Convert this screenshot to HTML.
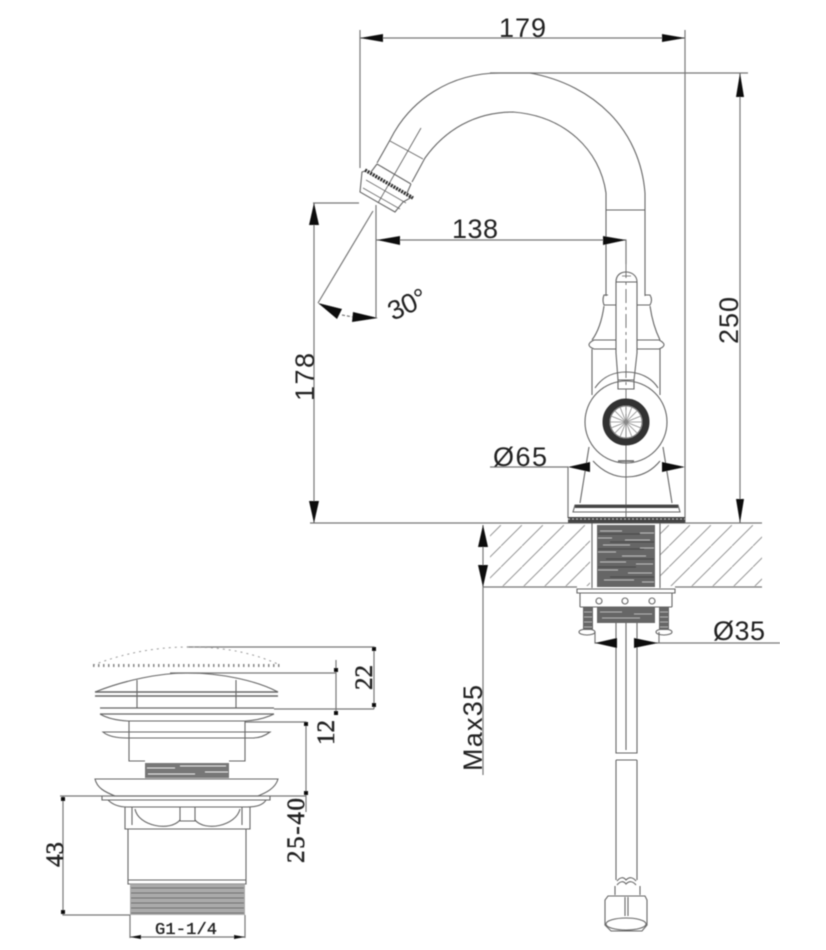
<!DOCTYPE html>
<html><head><meta charset="utf-8"><style>
html,body{margin:0;padding:0;background:#fff}
svg{display:block}
.s{font-family:"Liberation Sans",sans-serif;font-size:27px;fill:#222}
.t{font-family:"Liberation Serif",serif;font-size:25px;fill:#222;stroke:#222;stroke-width:.5}
</style></head><body>
<svg width="826" height="950" viewBox="0 0 826 950" xmlns="http://www.w3.org/2000/svg">
<defs>
<filter id="b" x="0" y="0" width="100%" height="100%"><feGaussianBlur stdDeviation="0.6"/></filter>
<pattern id="h" patternUnits="userSpaceOnUse" width="21" height="21" patternTransform="translate(18,0)"><path d="M-2 23L23 -2" stroke="#999" stroke-width="1" fill="none"/></pattern>
</defs>
<g filter="url(#b)">
<!-- hatch -->
<rect x="490" y="525" width="100" height="61" fill="url(#h)"/>
<rect x="660" y="525" width="102" height="61" fill="url(#h)"/>

<g fill="none" stroke="#777" stroke-width="1.2">
<!-- dimension lines -->
<path d="M360 30V168M685 30V523M360 38H685"/>
<path d="M490 73H748M740 73V523"/>
<path d="M313 203H359M314 203V523M310 523H762"/>
<path d="M376 205V318M376 240H626V264"/>
<path d="M373 211L318 303"/>
<path d="M342 315L353 317" stroke-dasharray="3 2"/>
<path d="M483 525V775M483 587H577M675 587H762"/>
<path d="M490 467H568V518"/>
<path d="M595 632V643H617M634 643H780M659 632V643"/>
<!-- small drain dims -->
<path d="M187 647H374V709M170 673H336M336 660V715M274 709H374M245 722H306V812M60 796H306M63 796V915H130"/>
<path d="M130 915V938M245 915V938M130 937H245"/>
</g>

<g fill="none" stroke="#666" stroke-width="1.1">
<!-- spout -->
<path d="M377 163L390 140C410 100 450 73 500 73H530C595 85 640 130 645 193V296"/>
<path d="M412 182L425 158C445 130 475 112 513 112C565 116 600 150 606 193V296"/>
<path d="M606 210H645"/>
<path d="M390 141L423 159M421 128L378 203" stroke-width=".9"/>
<path d="M377 164L411 184M377 164L371 172M411 184L407 193M365 171L362 172L360 192L395 212L403 202L412 197" />
<path d="M366 180L406 203M363 188L400 209" stroke-width=".8"/>
<!-- handle -->
<path d="M616 282V353L618 380M637 282V353L634 380M616 282C616 274 622 272 626 272C631 272 637 275 637 282Z"/>
<path d="M618 380H634V389H618Z"/>
<path d="M616 282H637M622 276H631" stroke-width=".7"/>
<!-- body -->
<path d="M608 295H604Q602 300 604 305H616M645 295H650Q653 300 650 305H637"/>
<path d="M604 306C602 320 598 332 592 340M650 306C652 320 656 332 660 340"/>
<path d="M616 340H594Q584 345 594 349H616M637 340H659Q669 345 659 349H637"/>
<path d="M592 349V395M660 349V395"/>
<circle cx="626" cy="422" r="41"/>
<path d="M595 388C603 376 615 372 626 372C640 372 652 378 658 388"/>
<path d="M593 461C603 472 615 477 626 477C640 477 651 472 660 461"/>
<path d="M589 447L580 503M663 447L672 503"/>
<path d="M618 461H634" stroke-width="1.6"/>
<path d="M575 505H678L680 512H573Z"/>
<path d="M626 264V420" stroke-dasharray="14 4 3 4" stroke-width=".9"/>
<path d="M626 420V523" stroke-width=".9"/>
<!-- under deck -->
<path d="M592 523V588M660 523V588"/>
<path d="M577 589H675V593H577Z"/>
<path d="M580 593V607M672 593V607M580 607H672"/>
<circle cx="599" cy="601" r="3"/><circle cx="625" cy="601" r="3"/><circle cx="652" cy="601" r="3"/>
<ellipse cx="587" cy="632" rx="8" ry="3"/><ellipse cx="664" cy="632" rx="8" ry="3"/>
<path d="M616 623V753H637V623M616 760H637M616 760V880M637 760V880M626 623V750" />
<path d="M617 881Q622 875 626 880Q631 875 636 881M617 885Q622 879 626 884Q631 879 636 885"/>
<path d="M615 886V895M640 886V895"/>
<path d="M608 896H614H640H645L647 900V925L642 931H611L605 925V900Z"/>
<path d="M625 897V916M628 897V916"/>
<ellipse cx="626" cy="924" rx="20" ry="6"/>
<!-- drain top -->
<path d="M95 692C125 680 160 673 187 673C220 673 255 680 278 692"/>
<path d="M95 692H278M95 696H278" stroke-width="1.5"/>
<path d="M137 680V708M236 680V708"/>
<path d="M100 708H274M100 714H274" stroke-width="1.3"/>
<path d="M100 714Q110 720 128 721H245Q262 720 274 714"/>
<path d="M129 721V761H145M245 721V761H229"/>
<path d="M103 732H270Q262 738 253 738H127Q110 738 103 732Z"/>
<path d="M95 779H278C275 790 262 794 258 796H115C105 792 97 788 95 779Z"/>
<path d="M102 796V800H108Q115 807 127 807H247Q262 807 266 800H270V796M102 800H270"/>
<!-- hex -->
<path d="M125 807V829H250V807M132 807V825M180 807V821H195V807M242 807V825"/>
<path d="M135 809C138 826 170 832 180 820M195 820C205 832 236 826 240 809"/>
<path d="M128 829V880H246V829M128 880V884H246V880"/>
</g>
<path d="M93 665C120 655 150 647 190 647C230 647 258 655 280 665" fill="none" stroke="#999" stroke-width="1" stroke-dasharray="2 4"/>
<path d="M93 665.500H280" fill="none" stroke="#888" stroke-width="3" stroke-dasharray="1.500 3.500"/>

<!-- dark parts -->
<path d="M365 170L413 198" stroke="#333" stroke-width="3.500" stroke-dasharray="2 1" fill="none"/>
<circle cx="626" cy="422" r="20" fill="none" stroke="#333" stroke-width="7"/>
<circle cx="626" cy="422" r="16" fill="none" stroke="#777" stroke-width="1"/>
<g stroke="#888" stroke-width=".8"><path d="M610 422H642M626 406V438M615 411L637 433M637 411L615 433M620 407L632 437M632 407L620 437M611 416L641 428M641 416L611 428"/></g>
<rect x="575" y="505" width="103" height="3" fill="#444"/>
<rect x="568" y="517" width="117" height="6" fill="#444"/>
<path d="M568 519H685" stroke="#aaa" stroke-width="1" stroke-dasharray="2 2"/>
<!-- threads -->
<rect x="597" y="525" width="58" height="62" fill="#666"/>
<g stroke="#ccc" stroke-width="1" fill="none" opacity=".75">
<path d="M600 531H622M640 533H654M598 538H612M625 540H650M603 545H630M640 548H654M598 552H616M622 556H646M600 562H626M636 564H653M598 570H618M628 573H652M604 580H634M642 582H654"/>
</g>
<g stroke="#333" stroke-width="1" fill="none" opacity=".7">
<path d="M598 534H640M610 542H654M598 549H644M606 559H654M598 567H636M610 577H654"/>
</g>
<rect x="597" y="607" width="58" height="16" fill="#666"/>
<g stroke="#ccc" stroke-width="1" fill="none" opacity=".7"><path d="M600 612H622M634 614H652M602 618H640"/></g>
<rect x="583" y="607" width="10" height="23" fill="#666"/>
<rect x="659" y="607" width="10" height="23" fill="#666"/>
<g stroke="#aaa" stroke-width="1"><path d="M584 612H592M584 617H592M584 622H592M584 627H592M660 612H668M660 617H668M660 622H668M660 627H668"/></g>
<rect x="145" y="763" width="84" height="15" fill="#777"/>
<g stroke="#ddd" stroke-width="1" fill="none"><path d="M147 768H175M180 766H226M148 774H195M205 772H228"/></g>
<rect x="130" y="884" width="115" height="31" fill="#aaa"/>
<g stroke="#666" stroke-width="1" fill="none"><path d="M131 888H244M131 893H244M131 898H244M131 903H244M131 908H244M131 913H244"/></g>

<!-- arrowheads -->
<g fill="#111">
<path d="M360 38L383 34V42Z"/><path d="M685 38L662 34V42Z"/>
<path d="M740 73L736 97H744Z"/><path d="M740 523L736 499H744Z"/>
<path d="M314 203L309 225H319Z"/><path d="M314 523L309 501H319Z"/>
<path d="M377 240L400 236V245Z"/><path d="M626 240L603 236V245Z"/>
<path d="M318 303L342 309L337 319Z"/><path d="M378 318L353 312L352 322Z"/>
<path d="M483 525L478 547H488Z"/><path d="M483 587L478 565H488Z"/>
<path d="M568 467L590 462V472Z"/><path d="M685 467L662 462V472Z"/>
<path d="M595 643L617 638V648Z"/><path d="M658 643L634 638V648Z"/>
<path d="M130 937L141 935V939Z"/><path d="M245 937L234 935V939Z"/>
<rect x="372" y="647" width="4" height="4"/><rect x="372" y="703" width="4" height="4"/>
<rect x="334" y="668" width="4" height="4"/><rect x="334" y="711" width="4" height="4"/>
<rect x="304" y="722" width="4" height="4"/><rect x="304" y="791" width="4" height="4"/>
<rect x="61" y="797" width="4" height="4"/><rect x="61" y="910" width="4" height="4"/>
</g>

<!-- text -->
<text class="s" x="499" y="37" textLength="47">179</text>
<text class="s" x="452" y="238" textLength="46">138</text>
<text class="s" x="493" y="466" textLength="54">Ø65</text>
<text class="s" x="713" y="640" textLength="52">Ø35</text>
<text class="s" transform="translate(314,401) rotate(-90)" textLength="48">178</text>
<text class="s" transform="translate(738,344) rotate(-90)" textLength="47">250</text>
<text class="s" transform="translate(482,771) rotate(-90)" textLength="86">Max35</text>
<text class="s" transform="translate(393,321) rotate(-25)" textLength="40">30°</text>
<text class="t" transform="translate(372,690) rotate(-90)">22</text>
<text class="t" transform="translate(334,745) rotate(-90)">12</text>
<text class="t" transform="translate(304,863) rotate(-90)" textLength="65">25-40</text>
<text class="t" transform="translate(63,867) rotate(-90)">43</text>
<text x="155" y="934" textLength="62" style="font-family:'Liberation Mono',monospace;font-size:17px;fill:#222;stroke:#222;stroke-width:.35">G1-1/4</text>
</g>
</svg>
</body></html>
